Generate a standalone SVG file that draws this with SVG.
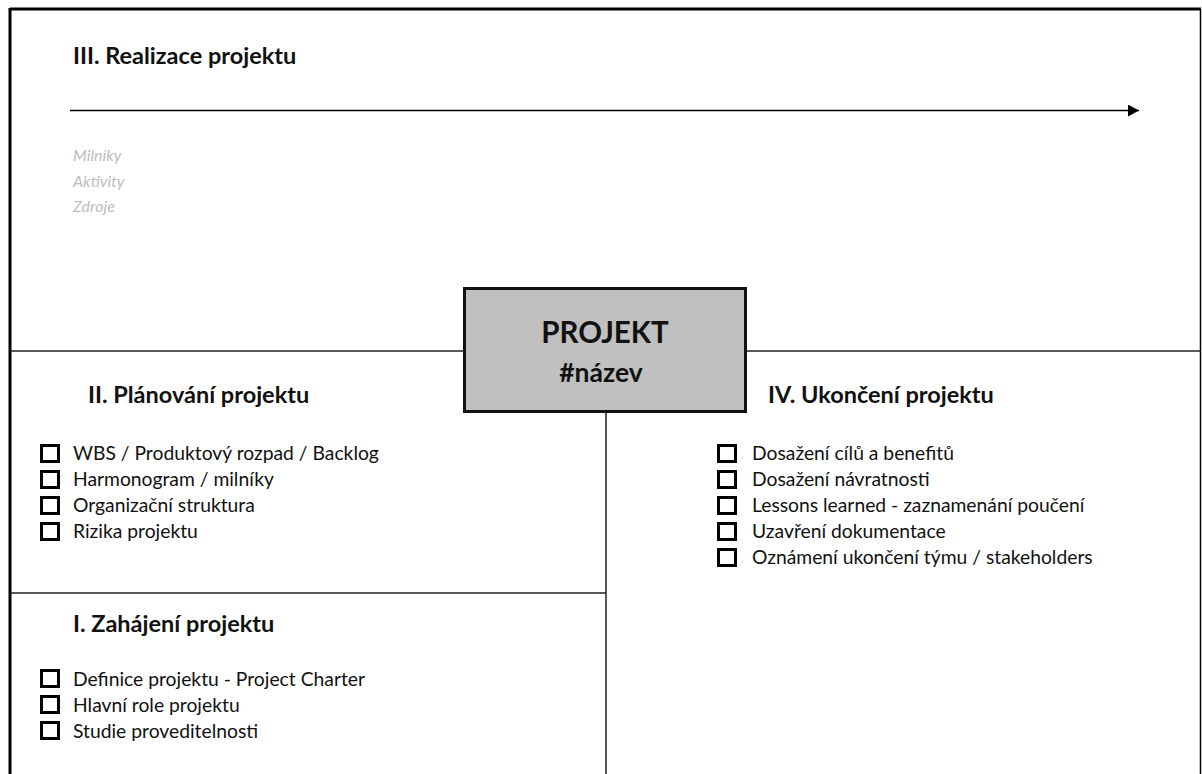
<svg xmlns="http://www.w3.org/2000/svg" width="1202" height="774" viewBox="0 0 1202 774">
  <style>
    .frame { fill: none; stroke: #000; }
    .divider { fill: none; stroke: #222; stroke-width: 1.5; }
    .head { font-family: Lato, "Liberation Sans", sans-serif; font-weight: bold; font-size: 23.5px; fill: #111; }
    .item { font-family: Lato, "Liberation Sans", sans-serif; font-size: 19.3px; fill: #111; }
    .hint { font-family: Lato, "Liberation Sans", sans-serif; font-style: italic; font-size: 16px; fill: #bdbdbd; }
    .check { fill: #fff; stroke: #000; stroke-width: 3; }
    .core { fill: #c0c0c0; stroke: #111; stroke-width: 3; }
    .core-text { font-family: Lato, "Liberation Sans", sans-serif; font-weight: bold; fill: #111; text-anchor: middle; }
  </style>
  <defs>
    <marker id="arrowhead" markerWidth="11" markerHeight="12" refX="11" refY="6" orient="auto" markerUnits="userSpaceOnUse">
      <path d="M0,0 L11,6 L0,12 Z" fill="#000"/>
    </marker>
  </defs>

  <rect width="1202" height="774" fill="#fff"/>

  <!-- outer frame and quadrant dividers -->
  <g id="connectors">
    <line class="frame" x1="10" y1="9" x2="1201" y2="9" stroke-width="3"/>
    <line class="frame" x1="10" y1="8" x2="10" y2="774" stroke-width="3"/>
    <line class="frame" x1="1200.5" y1="9" x2="1200.5" y2="774" stroke-width="1.5"/>
    <line class="divider" x1="10" y1="351" x2="463" y2="351"/>
    <line class="divider" x1="747" y1="351" x2="1201" y2="351"/>
    <line class="divider" x1="606" y1="413" x2="606" y2="774"/>
    <line class="divider" x1="10" y1="593" x2="606" y2="593"/>
    <!-- timeline -->
    <line x1="70" y1="110.5" x2="1139" y2="110.5" stroke="#000" stroke-width="1.5" marker-end="url(#arrowhead)"/>
  </g>

  <g id="realizace">
    <text class="head" x="73" y="64">III. Realizace projektu</text>
    <text class="hint" x="73" y="161">Milníky</text>
    <text class="hint" x="73" y="187">Aktivity</text>
    <text class="hint" x="73" y="212">Zdroje</text>
  </g>

  <g id="projekt">
    <rect class="core" x="464.5" y="288.5" width="281" height="123"/>
    <text class="core-text" x="605" y="343" font-size="29.5">PROJEKT</text>
    <text class="core-text" x="601" y="382" font-size="26.5">#název</text>
  </g>

  <g id="planovani">
    <text class="head" x="88" y="403">II. Plánování projektu</text>
    <rect class="check" x="41.5" y="445.5" width="17" height="16"/>
    <text class="item" x="73" y="460">WBS / Produktový rozpad / Backlog</text>
    <rect class="check" x="41.5" y="471.5" width="17" height="16"/>
    <text class="item" x="73" y="486">Harmonogram / milníky</text>
    <rect class="check" x="41.5" y="497.5" width="17" height="16"/>
    <text class="item" x="73" y="512">Organizační struktura</text>
    <rect class="check" x="41.5" y="523.5" width="17" height="16"/>
    <text class="item" x="73" y="538">Rizika projektu</text>
  </g>

  <g id="zahajeni">
    <text class="head" x="73" y="632">I. Zahájení projektu</text>
    <rect class="check" x="41.5" y="670.5" width="17" height="16"/>
    <text class="item" x="73" y="686">Definice projektu - Project Charter</text>
    <rect class="check" x="41.5" y="696.5" width="17" height="16"/>
    <text class="item" x="73" y="712">Hlavní role projektu</text>
    <rect class="check" x="41.5" y="722.5" width="17" height="16"/>
    <text class="item" x="73" y="738">Studie proveditelnosti</text>
  </g>

  <g id="ukonceni">
    <text class="head" x="768" y="403">IV. Ukončení projektu</text>
    <rect class="check" x="718.5" y="445.5" width="17" height="16"/>
    <text class="item" x="752" y="460">Dosažení cílů a benefitů</text>
    <rect class="check" x="718.5" y="471.5" width="17" height="16"/>
    <text class="item" x="752" y="486">Dosažení návratnosti</text>
    <rect class="check" x="718.5" y="497.5" width="17" height="16"/>
    <text class="item" x="752" y="512">Lessons learned - zaznamenání poučení</text>
    <rect class="check" x="718.5" y="523.5" width="17" height="16"/>
    <text class="item" x="752" y="538">Uzavření dokumentace</text>
    <rect class="check" x="718.5" y="549.5" width="17" height="16"/>
    <text class="item" x="752" y="564">Oznámení ukončení týmu / stakeholders</text>
  </g>
</svg>
